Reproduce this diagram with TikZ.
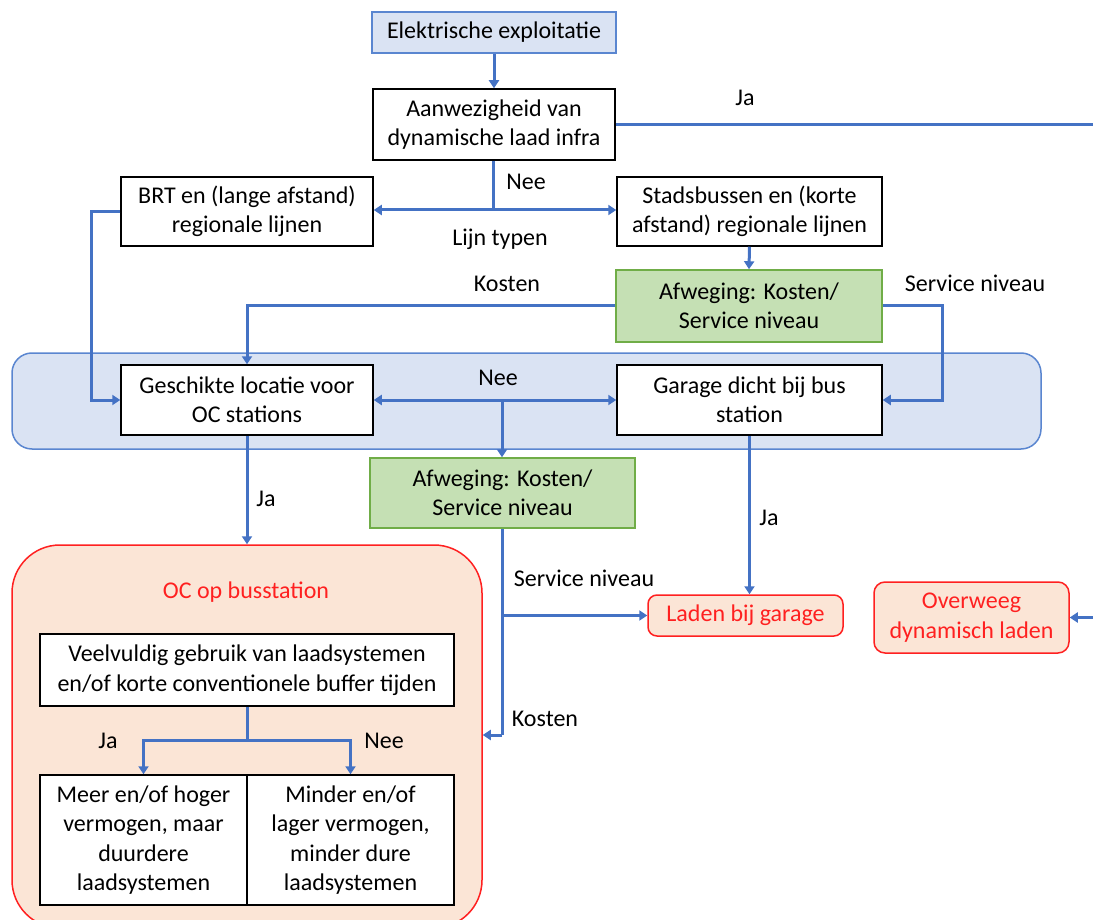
\documentclass[tikz,border=0pt]{standalone}
\usepackage{fontspec}
\setmainfont{Carlito}
\usetikzlibrary{arrows.meta}
\definecolor{lnblue}{HTML}{4472C4}
\definecolor{grpfill}{HTML}{DAE3F3}
\definecolor{grpline}{HTML}{5A86D0}
\definecolor{gfill}{HTML}{C5E0B4}
\definecolor{gline}{HTML}{70AD47}
\definecolor{rfill}{HTML}{FBE5D6}
\definecolor{rline}{HTML}{FF2020}
\begin{document}
\begin{tikzpicture}[x=1pt,y=-1pt,
  font=\fontsize{24}{29.5}\selectfont,
  box/.style={draw=black, line width=1.5pt, fill=white, inner sep=0pt, align=center},
  bluebox/.style={draw=grpline, line width=1.5pt, fill=grpfill, inner sep=0pt, align=center},
  greenbox/.style={draw=gline, line width=1.5pt, fill=gfill, inner sep=0pt, align=center},
  redbox/.style={draw=rline, line width=1.5pt, fill=rfill, inner sep=0pt, align=center, text=rline},
  conn/.style={draw=lnblue, line width=3pt, -{Triangle[width=10pt,length=8pt]}},
  plain/.style={draw=lnblue, line width=3pt},
  lbl/.style={inner sep=0pt, anchor=base}
]
\useasboundingbox (0,0) rectangle (1093,920);
\clip (0,0) rectangle (1093,920);

% backgrounds
\node[bluebox, rounded corners=20pt, minimum width=1029pt, minimum height=96pt] (grp) at (526.5,401) {};
\node[redbox, rounded corners=48pt, minimum width=470pt, minimum height=383pt] (oc) at (247,736.5) {};

% nodes
\node[bluebox, minimum width=244pt, minimum height=41pt] (elek) at (494,32.5) {Elektrische exploitatie};
\node[box, minimum width=242pt, minimum height=71pt] (aanw) at (494,124.5) {Aanwezigheid van\\dynamische laad infra};
\node[box, minimum width=252pt, minimum height=69pt] (brt) at (247,211.5) {BRT en (lange afstand)\\regionale lijnen};
\node[box, minimum width=265pt, minimum height=69pt] (stad) at (749.5,211.5) {Stadsbussen en (korte\\afstand) regionale lijnen};
\node[greenbox, minimum width=266pt, minimum height=72pt] (afw1) at (749,306) {Afweging: Kosten/\\Service niveau};
\node[box, minimum width=252pt, minimum height=70pt] (gesch) at (247,400) {Geschikte locatie voor\\OC stations};
\node[box, minimum width=265pt, minimum height=70pt] (garage) at (749.5,400) {Garage dicht bij bus\\station};
\node[greenbox, minimum width=265pt, minimum height=70pt] (afw2) at (502.5,493) {Afweging: Kosten/\\Service niveau};
\node[lbl, text=rline] (oclbl) at (246,598) {OC op busstation};
\node[box, minimum width=414pt, minimum height=72pt] (veel) at (247,670) {Veelvuldig gebruik van laadsystemen\\en/of korte conventionele buffer tijden};
\node[box, minimum width=207pt, minimum height=130pt] (meer) at (143.5,840) {Meer en/of hoger\\vermogen, maar\\duurdere\\laadsystemen};
\node[box, minimum width=207pt, minimum height=130pt] (minder) at (350.5,840) {Minder en/of\\lager vermogen,\\minder dure\\laadsystemen};
\node[redbox, rounded corners=9pt, minimum width=195pt, minimum height=41pt] (laden) at (745.5,615.5) {Laden bij garage};
\node[redbox, rounded corners=11pt, minimum width=195pt, minimum height=71pt] (overw) at (971.5,617.5) {Overweeg\\dynamisch laden};

% helper coordinates
\coordinate (jaend) at (1093,124.5);
\coordinate (dynin) at (1093,617.5);
\coordinate (split1) at (493,210);
\coordinate (split2) at (502,400);
\coordinate (kost) at (502,735);
\coordinate (split3) at (247,740);

% connectors
\draw[conn] (elek.south) -- (elek.south |- aanw.north);
\draw[plain] (aanw.east) -- (jaend);
\draw[plain] (aanw.south -| split1) -- (split1);
\draw[conn] (split1) -- (split1 -| brt.east);
\draw[conn] (split1) -- (split1 -| stad.west);
\draw[conn] (stad.south) -- (afw1.north);
\draw[conn] (afw1.west) -| (gesch.north);
\draw[conn] (afw1.east) -- ++(60,0) |- (garage.east);
\draw[conn] (brt.west) -- ++(-29,0) |- (gesch.west);
\draw[conn] (split2) -- (gesch.east);
\draw[conn] (split2) -- (garage.west);
\draw[conn] (split2) -- (split2 |- afw2.north);
\draw[conn] (gesch.south) -- (gesch.south |- oc.north);
\draw[conn] (garage.south) -- (garage.south |- laden.north);
\draw[plain] (afw2.south -| kost) -- (kost);
\draw[conn] (kost) -- (kost -| oc.east);
\draw[conn] (kost |- laden.west) -- (laden.west);
\draw[conn] (dynin) -- (overw.east);
\draw[plain] (veel.south) -- (split3);
\draw[conn] (split3) -| (meer.north);
\draw[conn] (split3) -| (minder.north);

% labels
\node[lbl] (l1) at (745,106) {Ja};
\node[lbl] (l2) at (526,190) {Nee};
\node[lbl] (l3) at (500,246) {Lijn typen};
\node[lbl] (l4) at (507,291) {Kosten};
\node[lbl] (l5) at (975,291) {Service niveau};
\node[lbl] (l6) at (498,385) {Nee};
\node[lbl] (l7) at (266,506) {Ja};
\node[lbl] (l8) at (769,525) {Ja};
\node[lbl] (l9) at (584,586) {Service niveau};
\node[lbl] (l10) at (545,726) {Kosten};
\node[lbl] (l11) at (108,748) {Ja};
\node[lbl] (l12) at (384,748) {Nee};
\end{tikzpicture}
\end{document}
